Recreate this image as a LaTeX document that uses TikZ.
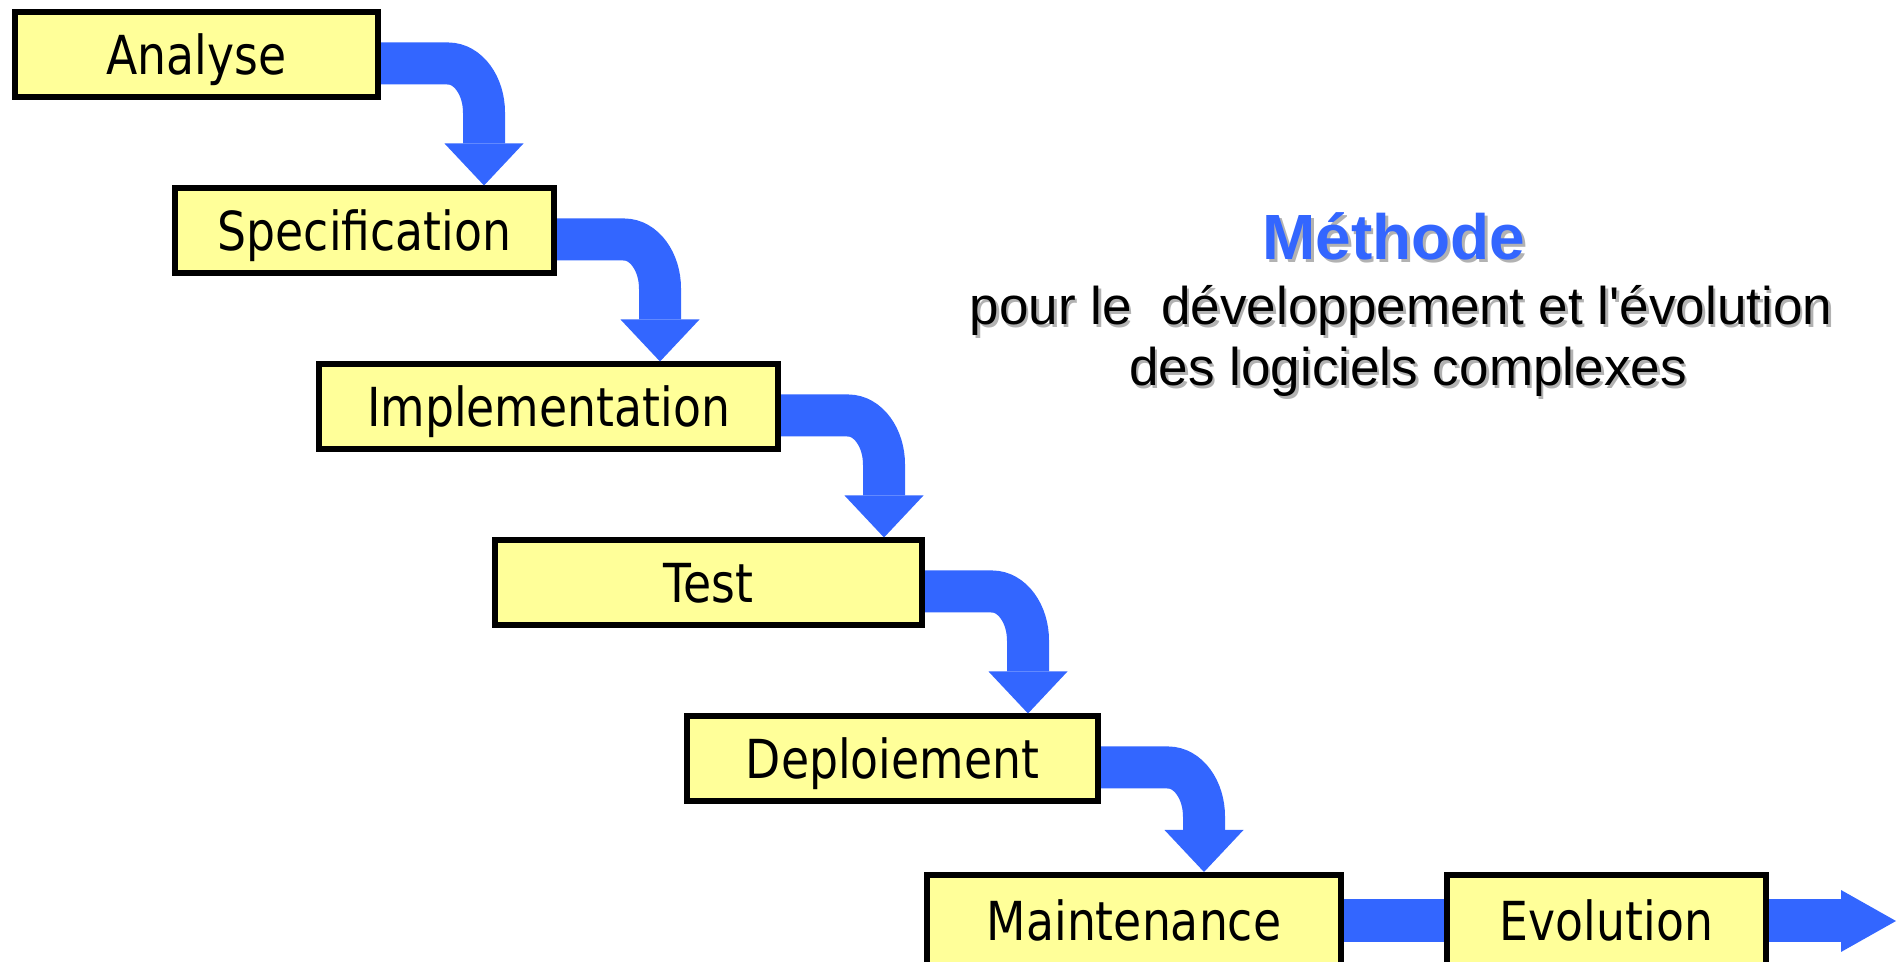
\documentclass[tikz,border=0pt]{standalone}
\usepackage{fontspec}
\setmainfont{Liberation Sans}
\newfontfamily\stepfont{DejaVu Sans}[FakeStretch=0.85]
\usetikzlibrary{arrows.meta,calc}
\definecolor{stepYellow}{RGB}{255,255,153}
\definecolor{flowBlue}  {RGB}{ 51,102,255}
\newcommand{\dropshadow}[1]{\makebox[0pt][l]{\kern0.025cm\raisebox{-0.025cm}{\color{black!30}#1}}#1}

\begin{document}
\begin{tikzpicture}[
    stepbox/.style={draw=black, line width=0.06cm, fill=stepYellow,
      minimum height=0.85cm, inner sep=0pt, text height=0.39cm, text depth=0pt,
      font=\stepfont\fontsize{15.3}{18}\selectfont},
    flow/.style={draw=flowBlue, line width=0.42cm,
      -{Triangle[width=0.79cm,length=0.42cm,line width=0pt]}},
    bar/.style={draw=flowBlue, line width=0.43cm},
    headline/.style={anchor=base, text=flowBlue, font=\bfseries\fontsize{18.2}{22}\selectfont},
    subline/.style={anchor=base, font=\fontsize{15.1}{18}\selectfont},
  ]
  \useasboundingbox (0,0) rectangle (19.04,-9.62);

  % the waterfall steps
  \foreach \name/\txt/\cx/\w [count=\i] in {
      ana/Analyse/1.965/3.63,
      spec/Specification/3.645/3.79,
      impl/Implementation/5.485/4.59,
      test/Test/7.085/4.27,
      depl/Deploiement/8.925/4.11}{
    \node[stepbox, minimum width=\w cm] (\name) at (\cx,-0.55-1.76*\i+1.76) {\txt};
  }
  \node[stepbox, minimum width=4.14cm, minimum height=0.92cm] (maint) at (11.34,-9.21) {Maintenance};
  \node[stepbox, minimum width=3.19cm, minimum height=0.92cm] (evol) at (16.065,-9.21) {Evolution};

  % bent arrows down the steps
  \foreach \a/\b in {ana/spec,spec/impl,impl/test,test/depl,depl/maint}{
    \draw[flow] ([yshift=-0.085cm]\a.east) -- ++(0.67,0)
      arc[start angle=90, end angle=0, x radius=0.36, y radius=0.49]
      -- ([xshift=1.03cm]\a.east |- \b.north);
  }

  \coordinate (exit) at (18.96,-9.21);
  \draw[bar] (maint.east) -- (evol.west);
  \draw[bar, -{Triangle[width=0.62cm,length=0.55cm,line width=0pt]}] (evol.east) -- (exit);

  \node[headline] (title) at (13.94,-2.60) {\dropshadow{Méthode}};
  \node[subline] (sub1) at (14.01,-3.25) {\dropshadow{pour le~ développement et l\textquotesingle évolution}};
  \node[subline] (sub2) at (14.08,-3.86) {\dropshadow{des logiciels complexes}};
\end{tikzpicture}
\end{document}
